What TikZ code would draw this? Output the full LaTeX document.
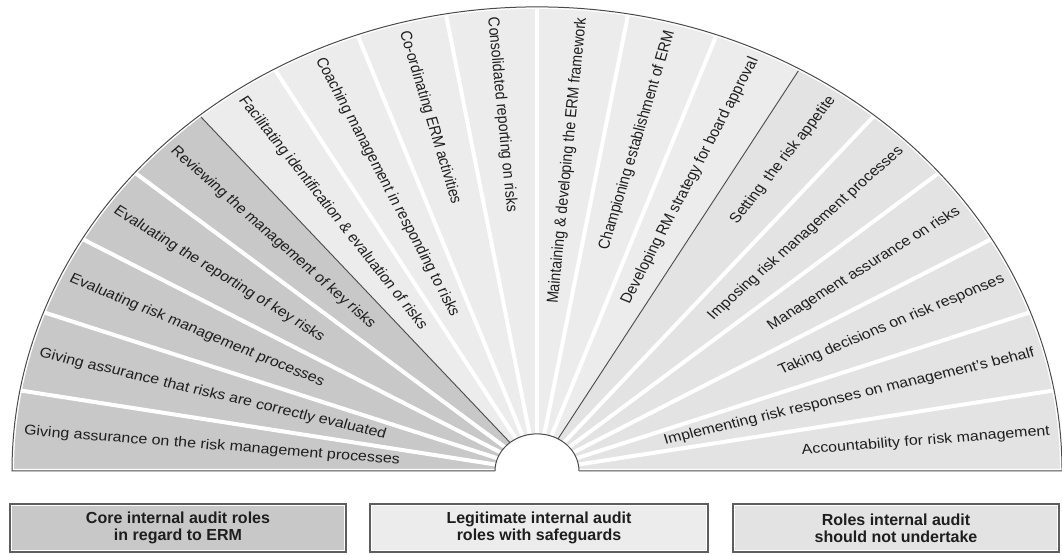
\documentclass[tikz,border=0pt]{standalone}
\usepackage{fontspec}
\setmainfont{Liberation Sans}
\definecolor{coreg}{HTML}{C8C8C8}
\definecolor{legitg}{HTML}{ECECEC}
\definecolor{notg}{HTML}{E3E3E3}
\definecolor{edgeg}{HTML}{4A4A4A}
\definecolor{frameg}{HTML}{5E5E5E}
\definecolor{txtg}{HTML}{1E1E1E}
\begin{document}
\begin{tikzpicture}[x=1pt,y=1pt,
  wedgetext/.style={font=\fontsize{16}{18}\selectfont, text=txtg, inner sep=0pt, transform shape},
  lefttext/.style={wedgetext, anchor=west, rotate=#1-180},
  righttext/.style={wedgetext, anchor=east, rotate=#1},
  gapline/.style={white, line width=4pt},
  groupline/.style={draw=edgeg, line width=0.9pt},
  rolebox/.style={fill=#1, inner sep=0pt, minimum height=48pt, align=center,
    font=\bfseries\fontsize{16}{17}\selectfont, text=txtg}
]
\useasboundingbox (0,0) rectangle (1062,554);

\begin{scope}[shift={(537,83)}, yscale=0.884]
  % sector groups
  \fill[coreg]  (0,0) -- (180:525) arc[start angle=180, end angle=130, radius=525] -- cycle;
  \fill[legitg] (0,0) -- (130:525) arc[start angle=130, end angle=60, radius=525] -- cycle;
  \fill[notg]   (0,0) -- (60:525) arc[start angle=60, end angle=0, radius=525] -- cycle;
  % white gaps between sectors
  \foreach \a in {10,20,30,40,50,70,80,90,100,110,120,140,150,160,170}
    \draw[gapline] (\a:40) -- (\a:530);
  % group separators
  \draw[groupline] (130:42) -- (130:525);
  \draw[groupline] (60:42) -- (60:525);
  % outline of the fan
  \draw[white, line width=4pt] (0:525) arc[start angle=0, end angle=180, radius=525] -- cycle;
  \draw[draw=edgeg, line width=1pt] (0:525) arc[start angle=0, end angle=180, radius=525] -- cycle;
  % hub
  \fill[white] (42,-1) -- (42,0) arc[start angle=0, end angle=180, radius=42] -- (-42,-1) -- cycle;
  \draw[draw=edgeg, line width=1pt] (42,0) arc[start angle=0, end angle=180, radius=42];

  % texts in the sectors
  \node[lefttext=175] (w0) at (175:515) {Giving assurance on the risk management processes};
  \node[lefttext=165] (w1) at (165:515) {Giving assurance that risks are correctly evaluated};
  \node[lefttext=155] (w2) at (155:515) {Evaluating risk management processes};
  \node[lefttext=145] (w3) at (145:515) {Evaluating the reporting of key risks};
  \node[lefttext=135] (w4) at (135:515) {Reviewing the management of key risks};
  \node[lefttext=125] (w5) at (125:515) {Facilitating identification \& evaluation of risks};
  \node[lefttext=115] (w6) at (115:515) {Coaching management in responding to risks};
  \node[lefttext=105] (w7) at (105:515) {Co-ordinating ERM activities};
  \node[lefttext=95]  (w8) at (95:515)  {Consolidated reporting on risks};
  \node[righttext=85] (w9) at (85:515)  {Maintaining \& developing the ERM framework};
  \node[righttext=75] (w10) at (75:515) {Championing establishment of ERM};
  \node[righttext=65] (w11) at (65:515) {Developing RM strategy for board approval};
  \node[righttext=55] (w12) at (55:515) {Setting\ \ the risk appetite};
  \node[righttext=45] (w13) at (45:515) {Imposing risk management processes};
  \node[righttext=35] (w14) at (35:515) {Management assurance on risks};
  \node[righttext=25] (w15) at (25:515) {Taking decisions on risk responses};
  \node[righttext=15] (w16) at (15:515) {Implementing risk responses on management's behalf};
  \node[righttext=5]  (w17) at (5:515)  {Accountability for risk management};
\end{scope}

% legend boxes
\node[rolebox=coreg,  minimum width=336pt] (core)  at (178,26)   {Core internal audit roles\\in regard to ERM};
\node[rolebox=legitg, minimum width=338pt] (legit) at (539,26)   {Legitimate internal audit\\roles with safeguards};
\node[rolebox=notg,   minimum width=326pt] (notu)  at (896,26)   {Roles internal audit\\should not undertake};
\foreach \n in {core,legit,notu} {
  \draw[white, line width=5pt] (\n.south west) rectangle (\n.north east);
  \draw[draw=frameg, line width=1.8pt] (\n.south west) rectangle (\n.north east);
}
\end{tikzpicture}
\end{document}
